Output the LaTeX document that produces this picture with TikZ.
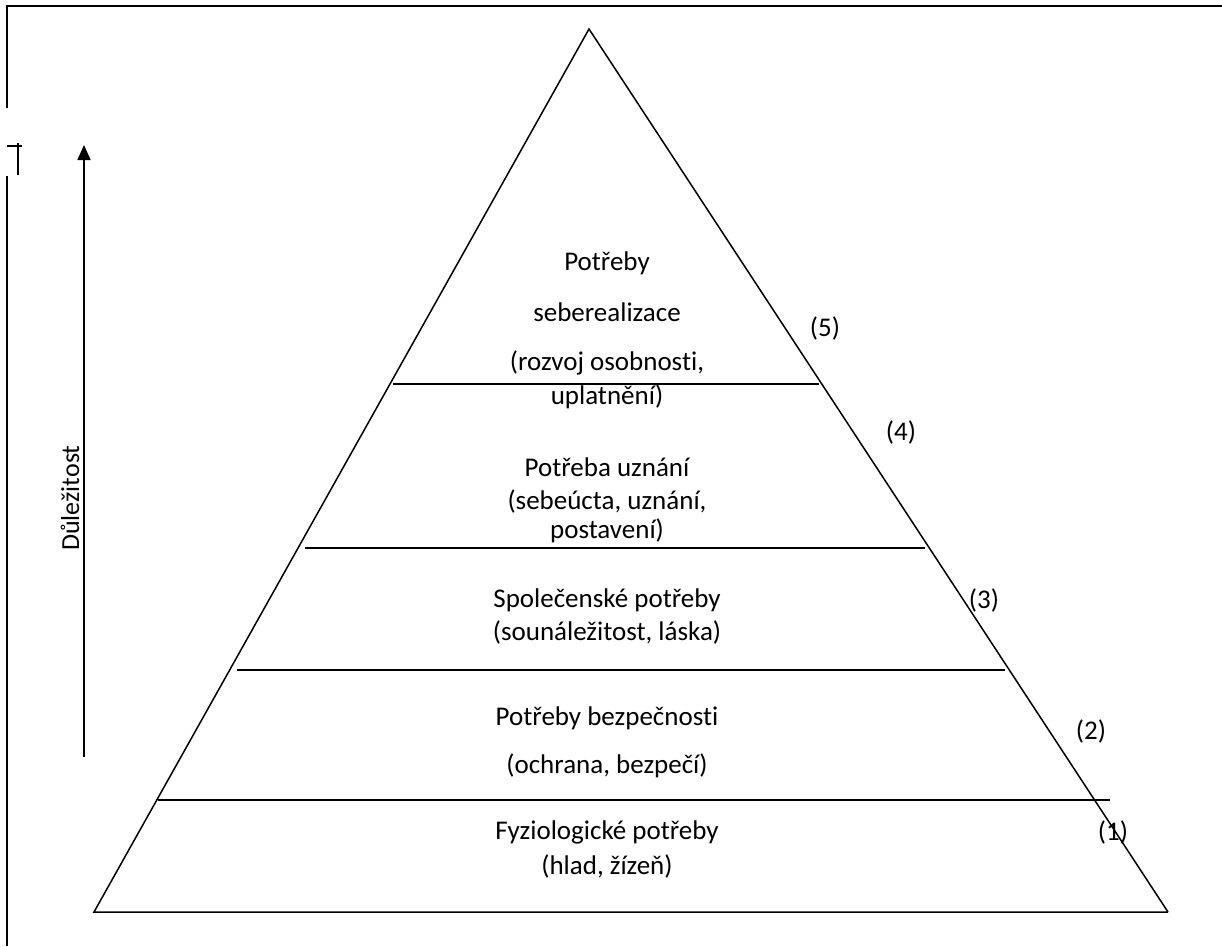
\documentclass[tikz,border=0pt]{standalone}
\usepackage{fontspec}
\setmainfont{Carlito}[Ligatures=NoCommon]
\usetikzlibrary{arrows.meta}
\begin{document}
\begin{tikzpicture}[x=1pt,y=-1pt,
  lbl/.style={inner sep=0pt, font=\fontsize{27}{32}\selectfont, align=center},
  edge/.style={line width=1.5pt, black},
  frame/.style={line width=1.9pt, black}]
\useasboundingbox (0,0) rectangle (1222,946);
% frame
\coordinate (f1) at (7,108);
\coordinate (f2) at (7,6);
\coordinate (f3) at (1222,6);
\coordinate (g1) at (7,176);
\coordinate (g2) at (7,946);
\coordinate (m1) at (7,146);
\coordinate (m2) at (22,146);
\coordinate (m3) at (18,143);
\coordinate (m4) at (18,175);
\draw[frame] (f1) -- (f2) -- (f3);
\draw[frame] (g1) -- (g2);
\draw[frame] (m1) -- (m2);
\draw[frame] (m3) -- (m4);
% triangle
\coordinate (apex) at (589,29);
\coordinate (bl) at (94,912);
\coordinate (br) at (1168,912);
\draw[edge, line join=miter] (br) -- (apex) -- (bl) -- (br);
% level lines
\coordinate (l5a) at (393,384); \coordinate (l5b) at (819,384);
\coordinate (l4a) at (305,548); \coordinate (l4b) at (925,548);
\coordinate (l3a) at (237,670); \coordinate (l3b) at (1005,670);
\coordinate (l2a) at (158,800); \coordinate (l2b) at (1110,800);
\draw[edge] (l5a) -- (l5b);
\draw[edge] (l4a) -- (l4b);
\draw[edge] (l3a) -- (l3b);
\draw[edge] (l2a) -- (l2b);
% arrow
\coordinate (ab) at (84,757);
\coordinate (at) at (84,145);
\draw[line width=1.8pt, -{Triangle[width=13pt,length=15pt]}] (ab) -- (at);
\node[inner sep=0pt, rotate=90, font=\fontsize{26}{30}\selectfont] (imp) at (70,498) {Důležitost};
% texts
\node[lbl] (t5a) at (607,263) {Potřeby};
\node[lbl] (t5b) at (607,312) {seberealizace};
\node[lbl] (t5c) at (607,363) {(rozvoj osobnosti,};
\node[lbl] (t5d) at (607,397) {uplatnění)};
\node[lbl] (t4a) at (607,467) {Potřeba uznání};
\node[lbl] (t4b) at (607,501) {(sebeúcta, uznání,};
\node[lbl] (t4c) at (607,531) {postavení)};
\node[lbl] (t3a) at (607,600) {Společenské potřeby};
\node[lbl] (t3b) at (607,632) {(sounáležitost, láska)};
\node[lbl] (t2a) at (607,718) {Potřeby bezpečnosti};
\node[lbl] (t2b) at (607,766) {(ochrana, bezpečí)};
\node[lbl] (t1a) at (607,832) {Fyziologické potřeby};
\node[lbl] (t1b) at (607,866) {(hlad, žízeň)};
% numbers
\node[lbl] (n5) at (825,328) {(5)};
\node[lbl] (n4) at (901,432) {(4)};
\node[lbl] (n3) at (984,600) {(3)};
\node[lbl] (n2) at (1091,731) {(2)};
\node[lbl] (n1) at (1113,832) {(1)};
\end{tikzpicture}
\end{document}
